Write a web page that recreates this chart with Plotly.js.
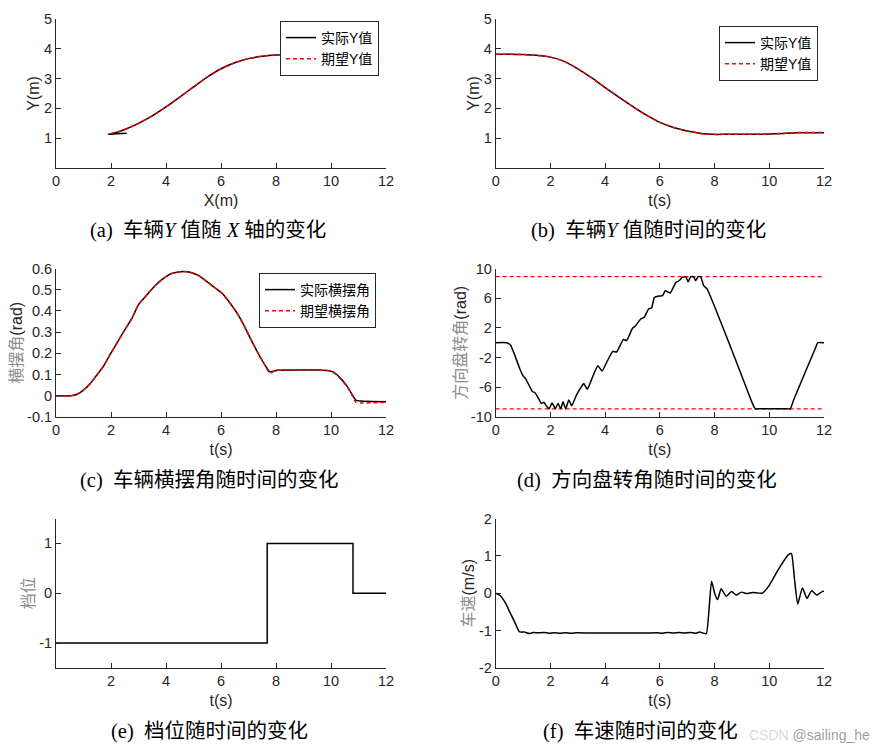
<!DOCTYPE html>
<html>
<head>
<meta charset="utf-8">
<script src="https://cdn.plot.ly/plotly-3.0.1.min.js"></script>
<style>html,body{margin:0;padding:0;background:#fff;}#chart{width:874px;height:754px;}</style>
</head>
<body>
<div id="chart"></div>
<script>
// ---------- (a) Y vs X ----------
const aX_actual = [9.0, 8.5, 8.0, 7.5, 7.0, 6.5, 6.0, 5.5, 5.0, 4.5, 4.0, 3.5, 3.0, 2.5, 2.2, 1.9, 2.2, 2.57];
const aY_actual = [3.815, 3.81, 3.79, 3.75, 3.67, 3.53, 3.33, 3.05, 2.72, 2.38, 2.05, 1.75, 1.5, 1.29, 1.19, 1.13, 1.15, 1.17];
const aX_desired = [9.0, 8.5, 8.0, 7.5, 7.0, 6.5, 6.0, 5.5, 5.0, 4.5, 4.0, 3.5, 3.0, 2.5, 2.2, 1.95];
const aY_desired = [3.815, 3.81, 3.79, 3.75, 3.67, 3.53, 3.33, 3.05, 2.72, 2.38, 2.05, 1.75, 1.5, 1.29, 1.2, 1.14];

// ---------- (b) Y vs t ----------
const bT = [0, 0.5, 1, 1.5, 2, 2.5, 3, 3.5, 4, 4.5, 5, 5.5, 6, 6.5, 7, 7.5, 7.9, 8.5, 9, 9.5, 10, 10.5, 11, 11.5, 12];
const bY_actual = [3.82, 3.82, 3.81, 3.78, 3.72, 3.58, 3.33, 3.03, 2.70, 2.38, 2.07, 1.78, 1.53, 1.36, 1.24, 1.16, 1.13, 1.13, 1.13, 1.13, 1.14, 1.16, 1.18, 1.18, 1.18];
const bY_desired = [3.82, 3.82, 3.81, 3.78, 3.72, 3.58, 3.33, 3.03, 2.70, 2.38, 2.07, 1.78, 1.53, 1.36, 1.24, 1.16, 1.13, 1.13, 1.13, 1.13, 1.14, 1.16, 1.19, 1.19, 1.19];

// ---------- (c) yaw angle ----------
const cT = [0, 0.51, 0.75, 1.0, 1.24, 1.48, 1.73, 1.97, 2.21, 2.45, 2.76, 3.0, 3.3, 3.61, 3.91, 4.16, 4.4, 4.64, 4.88, 5.19, 5.49, 5.73, 6.04, 6.34, 6.59, 6.83, 7.07, 7.31, 7.56, 7.78, 7.9, 8.04, 8.9, 9.5, 9.93, 10.11, 10.35, 10.6, 10.78, 10.9, 11.08, 12];
const cYaw_actual = [0, 0, 0.006, 0.027, 0.057, 0.097, 0.14, 0.195, 0.247, 0.30, 0.365, 0.43, 0.475, 0.52, 0.553, 0.574, 0.582, 0.586, 0.582, 0.566, 0.538, 0.514, 0.483, 0.435, 0.388, 0.333, 0.27, 0.21, 0.153, 0.113, 0.116, 0.12, 0.121, 0.121, 0.118, 0.11, 0.082, 0.042, 0.003, -0.02, -0.025, -0.028];
const cYaw_desired = [0, 0, 0.006, 0.027, 0.057, 0.097, 0.14, 0.195, 0.247, 0.30, 0.365, 0.43, 0.475, 0.52, 0.553, 0.574, 0.582, 0.586, 0.582, 0.566, 0.538, 0.514, 0.483, 0.435, 0.388, 0.333, 0.27, 0.21, 0.153, 0.105, 0.114, 0.12, 0.121, 0.121, 0.118, 0.108, 0.08, 0.04, 0.0, -0.03, -0.034, -0.03];

// ---------- (d) steering wheel angle ----------
const dT = [0, 0.4, 0.55, 0.7, 0.88, 1.0, 1.1, 1.25, 1.35, 1.43, 1.55, 1.67, 1.76, 1.85, 1.95, 2.06, 2.18, 2.28, 2.38, 2.46, 2.56, 2.67, 2.78, 2.95, 3.13, 3.22, 3.35, 3.5, 3.73, 3.89, 4.06, 4.28, 4.42, 4.67, 4.79, 5.0, 5.1, 5.3, 5.43, 5.59, 5.7, 5.8, 5.97, 6.1, 6.2, 6.38, 6.58, 6.7, 6.82, 6.95, 7.03, 7.13, 7.23, 7.31, 7.4, 7.49, 7.6, 7.73, 8.6, 9.4, 9.49, 9.6, 10.65, 10.77, 10.9, 11.7, 11.77, 12];
const dSteer = [0, 0, -0.36, -1.7, -3.5, -4.46, -4.9, -5.94, -6.6, -6.7, -7.4, -8.17, -8.0, -8.5, -8.9, -8.1, -8.9, -8.17, -8.9, -7.95, -8.9, -7.7, -8.5, -7.05, -5.94, -5.5, -6.25, -5.0, -3.1, -3.8, -2.6, -1.16, -1.25, 0.45, 0.31, 1.96, 2.23, 3.2, 3.44, 4.55, 4.7, 6.1, 6.3, 6.34, 7.0, 6.7, 8.1, 8.35, 8.8, 8.9, 8.2, 8.9, 8.9, 8.35, 8.9, 8.9, 7.7, 7.23, -0.7, -8.3, -8.9, -8.9, -8.9, -8.9, -7.6, -0.6, 0, 0];
const dLimT = [0, 12];
const dLimUpper = [8.9, 8.9];
const dLimLower = [-8.9, -8.9];

// ---------- (e) gear ----------
const eT = [0, 7.68, 10.8, 12];
const eGear = [-1, 1, 0, 0];

// ---------- (f) vehicle speed ----------
const fT = [0, 0.16, 0.34, 0.52, 0.70, 0.86, 0.94, 1.07, 1.22, 1.37, 1.55, 1.75, 1.95, 2.15, 2.35, 2.55, 2.75, 2.95, 3.5, 4.5, 5.5, 5.9, 6.1, 6.3, 6.5, 6.7, 6.9, 7.1, 7.3, 7.45, 7.6, 7.7, 7.89, 8.01, 8.11, 8.24, 8.43, 8.62, 8.79, 8.98, 9.19, 9.38, 9.74, 9.98, 10.35, 10.71, 10.81, 10.92, 11.04, 11.21, 11.38, 11.55, 11.73, 11.95, 12];
const fV = [0, -0.06, -0.24, -0.51, -0.78, -1.03, -1.04, -1.04, -1.08, -1.05, -1.06, -1.05, -1.07, -1.055, -1.07, -1.055, -1.07, -1.06, -1.065, -1.065, -1.065, -1.055, -1.07, -1.05, -1.065, -1.05, -1.065, -1.05, -1.07, -1.04, -1.07, -1.08, 0.32, -0.02, -0.17, 0.12, -0.08, 0.05, -0.05, 0.03, -0.01, 0.02, 0, 0.19, 0.66, 1.04, 1.06, 0.39, -0.29, 0.14, -0.14, 0.07, -0.05, 0.05, 0.05];

// ---------- tick labels ----------
const ticksX = [0, 2, 4, 6, 8, 10, 12];
const ticksXe = [2, 4, 6, 8, 10, 12];
const ticksYab = [1, 2, 3, 4, 5];
const ticksYc = [-0.1, 0, 0.1, 0.2, 0.3, 0.4, 0.5, 0.6];
const ticksYcText = ['-0.1', '0', '0.1', '0.2', '0.3', '0.4', '0.5', '0.6'];
const ticksYd = [-10, -6, -2, 2, 6, 10];
const ticksYdText = ['-10', '-6', '-2', '2', '6', '10'];
const ticksYe = [-1, 0, 1];
const ticksYeText = ['-1', '0', '1'];
const ticksYf = [-2, -1, 0, 1, 2];
const ticksYfText = ['-2', '-1', '0', '1', '2'];

const FS = 'Liberation Sans, Arial, Noto Sans CJK SC, sans-serif';
const FCJK = 'Liberation Sans, Noto Sans CJK SC, sans-serif';
const FCAP = 'Liberation Serif, Times New Roman, Noto Sans CJK SC, serif';
const AXC = '#262626';
const W = 874, H = 754;

const colL = [56 / W, 386 / W];
const colR = [495.7 / W, 824 / W];
const row1 = [1 - 168 / H, 1 - 19 / H];
const row2 = [1 - 417 / H, 1 - 268.5 / H];
const row3 = [1 - 668 / H, 1 - 518.5 / H];

function xax(domain, anchor, tickvals, title) {
  return {
    domain: domain, anchor: anchor, range: [0, 12],
    tickvals: tickvals, ticktext: tickvals.map(String),
    showline: true, linecolor: AXC, linewidth: 1,
    ticks: 'inside', ticklen: 5, tickcolor: AXC, tickwidth: 1,
    showgrid: false, zeroline: false, mirror: false,
    tickfont: {family: FS, size: 14.5, color: AXC},
    title: {text: title, font: {family: FCJK, size: 16, color: AXC}, standoff: 6}
  };
}
function yax(domain, anchor, range, tickvals, ticktext, title) {
  return {
    domain: domain, anchor: anchor, range: range,
    tickvals: tickvals, ticktext: ticktext,
    showline: true, linecolor: AXC, linewidth: 1,
    ticks: 'inside', ticklen: 5, tickcolor: AXC, tickwidth: 1,
    showgrid: false, zeroline: false, mirror: false,
    tickfont: {family: FS, size: 14.5, color: AXC},
    title: {text: title, font: {family: FCJK, size: 16, color: AXC}, standoff: 0}
  };
}

const black = {color: '#000000', width: 1.5};
const red = {color: '#ff0000', width: 1.5, dash: '4px,3px'};

const traces = [
  {x: aX_actual, y: aY_actual, type: 'scatter', mode: 'lines', name: '实际Y值', line: Object.assign({shape: 'spline', smoothing: 0.5}, black), xaxis: 'x', yaxis: 'y', legend: 'legend'},
  {x: aX_desired, y: aY_desired, type: 'scatter', mode: 'lines', name: '期望Y值', line: Object.assign({shape: 'spline', smoothing: 0.5}, red), xaxis: 'x', yaxis: 'y', legend: 'legend'},

  {x: bT, y: bY_actual, type: 'scatter', mode: 'lines', name: '实际Y值', line: Object.assign({shape: 'spline', smoothing: 0.6}, black), xaxis: 'x2', yaxis: 'y2', legend: 'legend2'},
  {x: bT, y: bY_desired, type: 'scatter', mode: 'lines', name: '期望Y值', line: Object.assign({shape: 'spline', smoothing: 0.6}, red), xaxis: 'x2', yaxis: 'y2', legend: 'legend2'},

  {x: cT, y: cYaw_actual, type: 'scatter', mode: 'lines', name: '实际横摆角', line: Object.assign({shape: 'spline', smoothing: 0.5}, black), xaxis: 'x3', yaxis: 'y3', legend: 'legend3'},
  {x: cT, y: cYaw_desired, type: 'scatter', mode: 'lines', name: '期望横摆角', line: Object.assign({shape: 'spline', smoothing: 0.5}, red), xaxis: 'x3', yaxis: 'y3', legend: 'legend3'},

  {x: dLimT, y: dLimUpper, type: 'scatter', mode: 'lines', line: {color: '#ff0000', width: 1.2, dash: '4px,3px'}, xaxis: 'x4', yaxis: 'y4', showlegend: false},
  {x: dLimT, y: dLimLower, type: 'scatter', mode: 'lines', line: {color: '#ff0000', width: 1.2, dash: '4px,3px'}, xaxis: 'x4', yaxis: 'y4', showlegend: false},
  {x: dT, y: dSteer, type: 'scatter', mode: 'lines', line: Object.assign({shape: 'spline', smoothing: 0.4}, black), xaxis: 'x4', yaxis: 'y4', showlegend: false},

  {x: eT, y: eGear, type: 'scatter', mode: 'lines', line: {color: '#000000', width: 1.5, shape: 'hv'}, xaxis: 'x5', yaxis: 'y5', showlegend: false},

  {x: fT, y: fV, type: 'scatter', mode: 'lines', line: Object.assign({shape: 'spline', smoothing: 0.5}, black), xaxis: 'x6', yaxis: 'y6', showlegend: false}
];

function legendBox(xr, yt) {
  return {
    x: xr / W, y: 1 - yt / H, xanchor: 'right', yanchor: 'top', xref: 'paper', yref: 'paper',
    bgcolor: '#ffffff', bordercolor: '#262626', borderwidth: 1,
    font: {family: 'Liberation Sans, Noto Sans CJK SC, sans-serif', size: 14, color: '#000'},
    itemwidth: 30, tracegroupgap: 0, traceorder: 'normal'
  };
}

const gray = (s) => '<span style="color:#8c8c8c">' + s + '</span>';

function cap(text, cx, cy) {
  return {text: text, x: cx / W, y: 1 - cy / H, xref: 'paper', yref: 'paper', showarrow: false,
          xanchor: 'center', yanchor: 'middle', font: {family: FCAP, size: 20.5, color: '#000'}};
}

const layout = {
  width: W, height: H,
  margin: {l: 0, r: 0, t: 0, b: 0},
  paper_bgcolor: '#ffffff', plot_bgcolor: '#ffffff',
  showlegend: true,
  xaxis: xax(colL, 'y', ticksX, 'X(m)'),
  yaxis: yax(row1, 'x', [0, 5], ticksYab, ticksYab.map(String), 'Y(m)'),
  xaxis2: xax(colR, 'y2', ticksX, 't(s)'),
  yaxis2: yax(row1, 'x2', [0, 5], ticksYab, ticksYab.map(String), 'Y(m)'),
  xaxis3: xax(colL, 'y3', ticksX, 't(s)'),
  yaxis3: yax(row2, 'x3', [-0.1, 0.6], ticksYc, ticksYcText, gray('横摆角') + '(rad)'),
  xaxis4: xax(colR, 'y4', ticksX, 't(s)'),
  yaxis4: yax(row2, 'x4', [-10, 10], ticksYd, ticksYdText, gray('方向盘转角') + '(rad)'),
  xaxis5: xax(colL, 'y5', ticksXe, 't(s)'),
  yaxis5: yax(row3, 'x5', [-1.5, 1.5], ticksYe, ticksYeText, gray('档位')),
  xaxis6: xax(colR, 'y6', ticksX, 't(s)'),
  yaxis6: yax(row3, 'x6', [-2, 2], ticksYf, ticksYfText, gray('车速') + '(m/s)'),
  legend: legendBox(379, 21),
  legend2: legendBox(818, 26),
  legend3: legendBox(376, 273),
  annotations: [
    cap('(a)&nbsp; 车辆<i>Y</i> 值随 <i>X</i> 轴的变化', 208, 230),
    cap('(b)&nbsp; 车辆<i>Y</i> 值随时间的变化', 648, 230),
    cap('(c)&nbsp; 车辆横摆角随时间的变化', 209, 480),
    cap('(d)&nbsp; 方向盘转角随时间的变化', 647, 480),
    cap('(e)&nbsp; 档位随时间的变化', 209, 731),
    cap('(f)&nbsp; 车速随时间的变化', 640, 731),
    {text: '<span style="color:rgba(170,170,170,0.55)">CSDN</span> @sailing_he', x: 872 / W, y: 1 - 735 / H,
     xref: 'paper', yref: 'paper', showarrow: false, xanchor: 'right', yanchor: 'middle',
     font: {family: FS, size: 14, color: 'rgba(140,140,140,0.85)'}}
  ]
};

Plotly.newPlot('chart', traces, layout, {displayModeBar: false, staticPlot: true});
</script>
</body>
</html>
